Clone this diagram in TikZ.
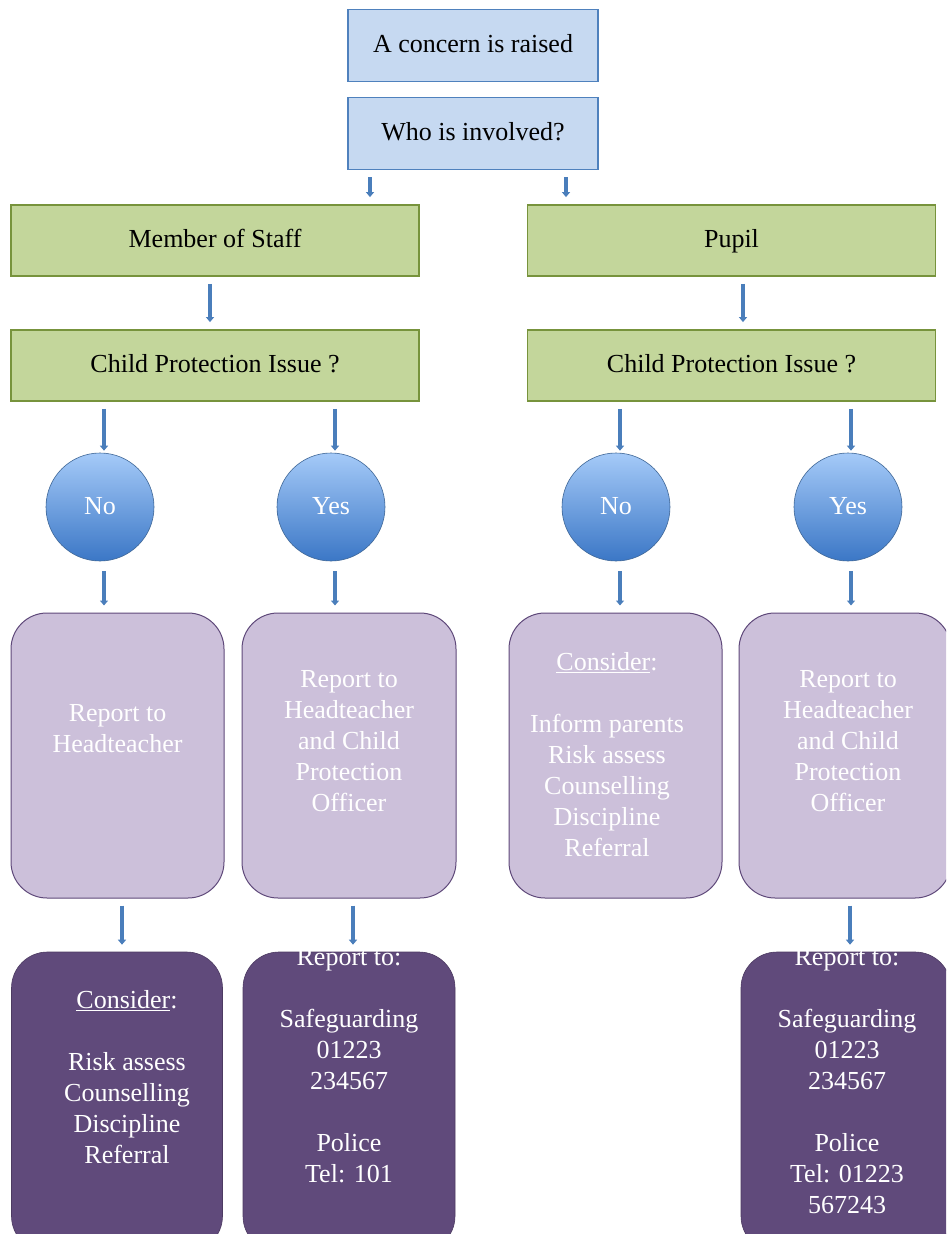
\documentclass[tikz,border=0pt]{standalone}
\usepackage{fontspec}
\setmainfont{Liberation Serif}
\usetikzlibrary{arrows.meta,calc}
\definecolor{bluefill}{HTML}{C6D9F1}
\definecolor{blueline}{HTML}{4F81BD}
\definecolor{greenfill}{HTML}{C3D69B}
\definecolor{greenline}{HTML}{77933C}
\definecolor{lpfill}{HTML}{CCC0DA}
\definecolor{lpline}{HTML}{5F497A}
\definecolor{dpfill}{HTML}{604A7B}
\definecolor{circtop}{HTML}{A5CAF8}
\definecolor{circbot}{HTML}{3B77C6}
\definecolor{arrowcol}{HTML}{4A7EBB}
\tikzset{
  txt/.style={font=\fontsize{26}{31}\selectfont, align=center, inner sep=0pt},
  oneline/.style={txt, text height=20pt, text depth=6pt},
  topbox/.style={draw=blueline, line width=1.8pt, fill=bluefill, minimum width=250pt, minimum height=72pt, oneline},
  greenbox/.style={draw=greenline, line width=1.8pt, fill=greenfill, minimum width=408pt, minimum height=71pt, oneline},
  decision/.style={circle, draw=blueline!80!black, line width=0.6pt, top color=circtop, bottom color=circbot, minimum size=108pt, oneline, text=white},
  lpbox/.style={draw=lpline, line width=1pt, fill=lpfill, rounded corners=36pt, minimum height=285pt, inner sep=0pt},
  dpbox/.style={fill=dpfill, draw=dpfill!80!black, line width=0.6pt, rounded corners=36pt, minimum height=300pt, inner sep=0pt},
  wtxt/.style={txt, text=white},
  arr/.style={draw=arrowcol, line width=3.2pt, -{Triangle[length=5pt,width=8pt]}, shorten <=7pt, shorten >=7pt}
}
\begin{document}
\begin{tikzpicture}[x=1pt,y=-1pt]
\useasboundingbox (0,0) rectangle (946,1234);
\clip (0,0) rectangle (946,1234);
\fill[white] (0,0) rectangle (946,1234);

% top boxes
\node[topbox] (concern) at (473,45.5) {A concern is raised};
\node[topbox] (who) at (473,133.5) {Who is involved?};

% green boxes
\node[greenbox] (staff) at (215,240.5) {Member of Staff};
\node[greenbox] (pupil) at (731.5,240.5) {Pupil};
\node[greenbox] (cp1) at (215,365.5) {Child Protection Issue ?};
\node[greenbox] (cp2) at (731.5,365.5) {Child Protection Issue ?};

% circles
\node[decision] (no1) at (100,507) {No};
\node[decision] (yes1) at (331,507) {Yes};
\node[decision] (no2) at (616,507) {No};
\node[decision] (yes2) at (848,507) {Yes};

% light purple boxes
\node[lpbox, minimum width=213pt] (lp1) at (117.5,755.5) {};
\node[lpbox, minimum width=214pt] (lp2) at (349,755.5) {};
\node[lpbox, minimum width=213pt] (lp3) at (615.5,755.5) {};
\node[lpbox, minimum width=212pt] (lp4) at (845,755.5) {};

\node[wtxt] (lp1t) at (117.5,729) {Report to\\Headteacher};
\node[wtxt] (lp2t) at (349,741) {Report to\\Headteacher\\and Child\\Protection\\Officer};
\node[wtxt] (lp3t) at (607,755) {\underline{Consider}:\\[31pt]Inform parents\\Risk assess\\Counselling\\Discipline\\Referral};
\node[wtxt] (lp4t) at (848,741) {Report to\\Headteacher\\and Child\\Protection\\Officer};

% dark purple boxes
\node[dpbox, minimum width=211pt] (dp1) at (117,1102) {};
\node[dpbox, minimum width=212pt] (dp2) at (349,1102) {};
\node[dpbox, minimum width=210pt] (dp4) at (846,1102) {};

\node[wtxt] (dp1t) at (127,1077) {\underline{Consider}:\\[31pt]Risk assess\\Counselling\\Discipline\\Referral};
\node[wtxt, anchor=north] (dp2t) at (349,948) {Report to:\\[31pt]Safeguarding\\01223\\234567\\[31pt]Police\\Tel: 101};
\node[wtxt, anchor=north] (dp4t) at (847,948) {Report to:\\[31pt]Safeguarding\\01223\\234567\\[31pt]Police\\Tel: 01223\\567243};

% connectors
\coordinate (wl) at (370,170);
\coordinate (wr) at (566,170);
\draw[arr] (who.south -| wl) -- (staff.north -| wl);
\draw[arr] (who.south -| wr) -- (pupil.north -| wr);
\draw[arr] (staff.south -| 210,0) -- (cp1.north -| 210,0);
\draw[arr] (pupil.south -| 743,0) -- (cp2.north -| 743,0);

\draw[arr, shorten >=2pt] (cp1.south -| 104,0) -- (no1.north -| 104,0);
\draw[arr, shorten >=2pt] (cp1.south -| 335,0) -- (yes1.north -| 335,0);
\draw[arr, shorten >=2pt] (cp2.south -| 620,0) -- (no2.north -| 620,0);
\draw[arr, shorten >=2pt] (cp2.south -| 851,0) -- (yes2.north -| 851,0);

\draw[arr, shorten <=10pt] (no1.south -| 104,0) -- (lp1.north -| 104,0);
\draw[arr, shorten <=10pt] (yes1.south -| 335,0) -- (lp2.north -| 335,0);
\draw[arr, shorten <=10pt] (no2.south -| 620,0) -- (lp3.north -| 620,0);
\draw[arr, shorten <=10pt] (yes2.south -| 851,0) -- (lp4.north -| 851,0);

\draw[arr] (lp1.south -| 122,0) -- (dp1.north -| 122,0);
\draw[arr] (lp2.south -| 353,0) -- (dp2.north -| 353,0);
\draw[arr] (lp4.south -| 850,0) -- (dp4.north -| 850,0);
\end{tikzpicture}
\end{document}
